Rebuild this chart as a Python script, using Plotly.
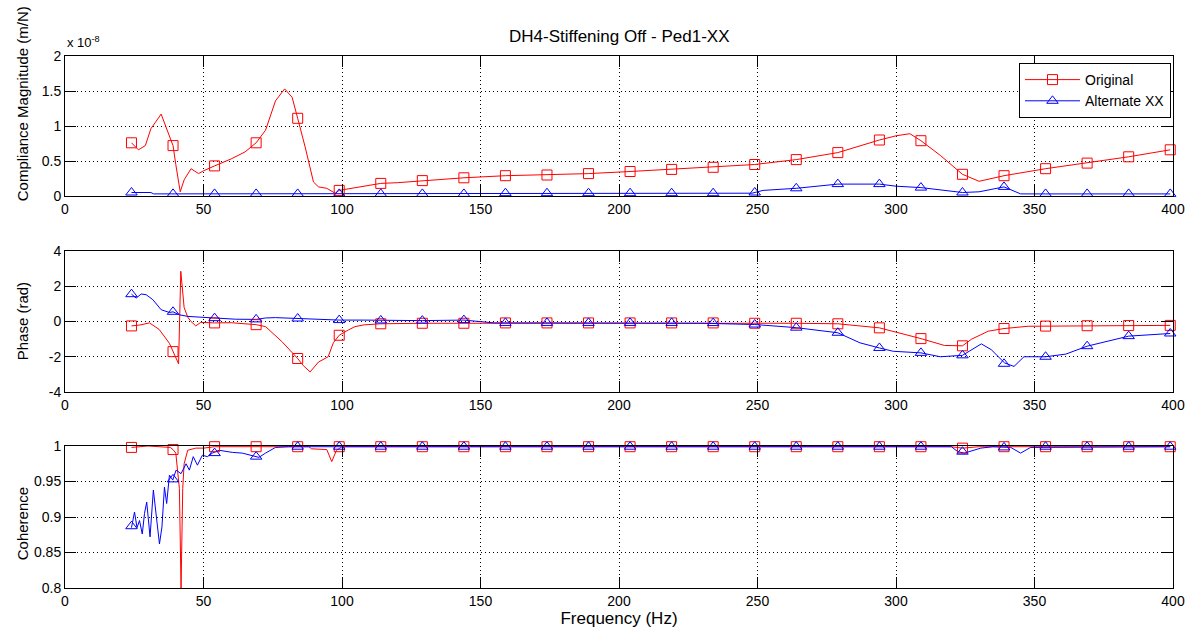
import plotly.graph_objects as go

# ---------------- data ----------------
title_text = "DH4-Stiffening Off - Ped1-XX"
series_names = ["Original", "Alternate XX"]

marker_freq = [24, 39, 54, 69, 84, 99, 114, 129, 144, 159, 174, 189, 204,
               219, 234, 249, 264, 279, 294, 309, 324, 339, 354, 369, 384, 399]

# Compliance magnitude (units of 1e-8 m/N)
mag_orig_f = [24, 26.5, 29, 31, 34.7, 37, 39, 40, 41.6, 43, 45.5, 48.2, 50, 54,
              60, 65, 69, 72.4, 76, 79.3, 82, 84, 86.7, 89.7, 91.5, 94.5, 97.5,
              99, 105, 114, 120, 129, 144, 159, 174, 189, 204, 219, 234, 249,
              264, 279, 294, 300, 305, 309, 316, 324, 330, 339, 354, 369, 384, 399]
mag_orig_v = [0.76, 0.66, 0.72, 0.96, 1.17, 0.93, 0.72, 0.45, 0.06, 0.23, 0.39,
              0.32, 0.36, 0.43, 0.53, 0.63, 0.76, 0.94, 1.36, 1.53, 1.41, 1.11,
              0.70, 0.20, 0.13, 0.11, 0.04, 0.08, 0.12, 0.18, 0.19, 0.22, 0.26,
              0.29, 0.30, 0.32, 0.35, 0.38, 0.41, 0.45, 0.52, 0.62, 0.80, 0.86,
              0.89, 0.79, 0.58, 0.31, 0.21, 0.29, 0.39, 0.47, 0.56, 0.66]
mag_orig_m = [0.76, 0.72, 0.43, 0.76, 1.11, 0.08, 0.18, 0.22, 0.26, 0.29, 0.30,
              0.32, 0.35, 0.38, 0.41, 0.45, 0.52, 0.62, 0.80, 0.79, 0.31, 0.29,
              0.39, 0.47, 0.56, 0.66]

mag_alt_f = [24, 31, 32, 100, 200, 248, 252, 264, 279, 294, 300, 309, 324, 330,
             339, 345, 354, 399]
mag_alt_v = [0.05, 0.05, 0.03, 0.03, 0.04, 0.04, 0.08, 0.11, 0.17, 0.17, 0.14,
             0.12, 0.05, 0.06, 0.13, 0.03, 0.03, 0.03]
mag_alt_m = [0.05, 0.03, 0.03, 0.03, 0.03, 0.03, 0.03, 0.03, 0.03, 0.04, 0.04,
             0.04, 0.04, 0.04, 0.04, 0.05, 0.11, 0.17, 0.17, 0.12, 0.05, 0.13,
             0.03, 0.03, 0.03, 0.03]

# Phase (rad)
ph_orig_f = [24, 27, 30.5, 34, 37.7, 39, 41.0, 41.8, 42.3, 43, 44.3, 45.5, 47.2,
             49, 54, 60, 69, 72.4, 78.3, 84, 86, 88.5, 91.5, 95, 96.9, 99, 102.3,
             104.7, 108, 114, 129, 144, 159, 174, 189, 204, 219, 234, 249, 264,
             279, 287, 294, 309, 317.5, 324, 327.3, 333.3, 339, 347.7, 354, 369,
             384, 399]
ph_orig_v = [-0.25, -0.2, -0.08, -0.45, -1.24, -1.71, -2.4, 2.85, 1.8, 0.8, 0.25,
             0.0, -0.25, -0.05, -0.08, -0.07, -0.18, -0.29, -1.14, -2.1, -2.5,
             -2.86, -2.3, -2.0, -1.2, -0.78, -0.48, -0.29, -0.19, -0.13, -0.1,
             -0.1, -0.08, -0.08, -0.08, -0.08, -0.08, -0.08, -0.1, -0.1, -0.13,
             -0.27, -0.36, -0.97, -1.36, -1.38, -1.0, -0.55, -0.40, -0.27, -0.26,
             -0.24, -0.23, -0.22]
ph_orig_m = [-0.25, -1.71, -0.08, -0.18, -2.1, -0.78, -0.13, -0.1, -0.1, -0.08,
             -0.08, -0.08, -0.08, -0.08, -0.08, -0.1, -0.1, -0.13, -0.36, -0.97,
             -1.38, -0.40, -0.26, -0.24, -0.23, -0.22]

ph_alt_f = [24, 25.7, 27.5, 29.3, 31.7, 34.7, 37.7, 39, 41.3, 44.3, 48.4, 54,
            61.6, 69, 72.4, 76, 84, 96.3, 99, 108, 114, 129, 144, 150, 155, 174,
            204, 230, 249, 264, 279, 287, 294, 299, 309, 316, 324, 330.8, 334.4,
            339.2, 342.6, 346.2, 354, 361.3, 369, 384, 399]
ph_alt_v = [1.55, 1.33, 1.56, 1.52, 1.24, 0.67, 0.51, 0.55, 0.38, 0.29, 0.25,
            0.19, 0.13, 0.12, 0.2, 0.22, 0.17, 0.1, 0.08, 0.08, 0.06, 0.05, 0.08,
            0.0, -0.08, -0.08, -0.08, -0.1, -0.17, -0.35, -0.64, -1.21, -1.5,
            -1.69, -1.78, -2.0, -1.92, -1.27, -1.6, -2.35, -2.55, -2.0, -2.0,
            -1.85, -1.4, -0.83, -0.68]
ph_alt_m = [1.55, 0.55, 0.19, 0.12, 0.17, 0.08, 0.06, 0.05, 0.08, -0.08, -0.08,
            -0.08, -0.08, -0.08, -0.09, -0.17, -0.35, -0.64, -1.5, -1.78, -1.92,
            -2.4, -2.0, -1.4, -0.83, -0.68]

# Coherence
coh_orig_f = [24, 29, 30, 38, 39, 40, 41.3, 41.9, 42.1, 42.5, 43, 44.3, 47.2,
              50, 54, 88, 89, 94.5, 96.3, 98, 100, 320, 324, 330, 399]
coh_orig_v = [0.998, 0.999, 1.0, 0.998, 0.995, 0.99, 0.94, 0.80, 0.85, 0.94,
              0.975, 0.994, 0.997, 0.997, 0.999, 0.999, 0.996, 0.995, 0.978,
              0.994, 0.999, 0.999, 0.997, 0.999, 0.999]
coh_orig_m = [0.998, 0.995, 0.999, 0.999, 0.999, 0.999, 0.999, 0.999, 0.999,
              0.999, 0.999, 0.999, 0.999, 0.999, 0.999, 0.999, 0.999, 0.999,
              0.999, 0.999, 0.997, 0.999, 0.999, 0.999, 0.999, 0.999]

coh_alt_f = [24, 24.5, 25.1, 26.0, 26.9, 27.9, 28.7, 29.5, 30.7, 31.9, 32.9,
             34.1, 35.0, 35.9, 36.7, 37.7, 38.9, 40.1, 41.9, 43.7, 44.9, 46.3,
             47.8, 49.6, 51.4, 53.2, 55.6, 58.0, 60.4, 64.0, 67.6, 70.0, 72.4,
             76.0, 80.7, 320, 322.3, 324.7, 330.6, 335, 341.4, 345, 348.6, 399]
coh_alt_v = [0.885, 0.895, 0.907, 0.885, 0.895, 0.876, 0.905, 0.921, 0.872,
             0.938, 0.900, 0.862, 0.886, 0.942, 0.919, 0.959, 0.952, 0.966,
             0.961, 0.975, 0.966, 0.985, 0.973, 0.987, 0.985, 0.990, 0.994,
             0.992, 0.991, 0.990, 0.986, 0.984, 0.990, 0.998, 0.999, 0.999,
             0.992, 0.990, 0.997, 0.999, 0.998, 0.990, 0.998, 0.999]
coh_alt_m = [0.887, 0.953, 0.990, 0.985, 0.999, 0.999, 0.999, 0.999, 0.999,
             0.999, 0.999, 0.999, 0.999, 0.999, 0.999, 0.999, 0.999, 0.999,
             0.999, 0.999, 0.992, 0.998, 0.999, 0.999, 0.999, 0.999]

x_ticks = [0, 50, 100, 150, 200, 250, 300, 350, 400]
phase_ticks = [-4, -2, 0, 2, 4]
phase_tick_text = ["-4", "-2", "0", "2", "4"]

# ---------------- figure ----------------
RED = "#ff0000"
BLUE = "#0000ff"
FONT = "Liberation Sans, Arial, Helvetica, sans-serif"

fig = go.Figure()

panels = [
    ("x", "y", mag_orig_f, mag_orig_v, mag_orig_m, mag_alt_f, mag_alt_v, mag_alt_m),
    ("x2", "y2", ph_orig_f, ph_orig_v, ph_orig_m, ph_alt_f, ph_alt_v, ph_alt_m),
    ("x3", "y3", coh_orig_f, coh_orig_v, coh_orig_m, coh_alt_f, coh_alt_v, coh_alt_m),
]

for xa, ya, of, ov, om, af, av, am in panels:
    fig.add_trace(go.Scatter(x=of, y=ov, mode="lines", xaxis=xa, yaxis=ya,
                             line=dict(color=RED, width=1), showlegend=False,
                             hoverinfo="skip"))
    fig.add_trace(go.Scatter(x=af, y=av, mode="lines", xaxis=xa, yaxis=ya,
                             line=dict(color=BLUE, width=1), showlegend=False,
                             hoverinfo="skip"))
    fig.add_trace(go.Scatter(x=marker_freq, y=om, mode="markers", xaxis=xa, yaxis=ya,
                             marker=dict(symbol="square-open", size=10, color=RED,
                                         line=dict(width=1, color=RED)),
                             showlegend=False, cliponaxis=False))
    fig.add_trace(go.Scatter(x=marker_freq, y=am, mode="markers", xaxis=xa, yaxis=ya,
                             marker=dict(symbol="triangle-up-open", size=10, color=BLUE,
                                         line=dict(width=1, color=BLUE)),
                             showlegend=False, cliponaxis=False))

# legend entries
fig.add_trace(go.Scatter(x=[None], y=[None], mode="lines+markers", name=series_names[0],
                         line=dict(color=RED, width=1),
                         marker=dict(symbol="square-open", size=10, color=RED)))
fig.add_trace(go.Scatter(x=[None], y=[None], mode="lines+markers", name=series_names[1],
                         line=dict(color=BLUE, width=1),
                         marker=dict(symbol="triangle-up-open", size=10, color=BLUE)))

H = 532.0
def dom(top_px, bot_px):
    return [(588 - bot_px) / H, (588 - top_px) / H]

GRID_DASH = "1px,3px"
common_x = dict(range=[0, 400], tickvals=x_ticks, showgrid=True, gridcolor="#000",
                griddash=GRID_DASH, gridwidth=1, showline=True, linecolor="black",
                linewidth=1, mirror="ticks", ticks="inside", ticklen=11,
                tickcolor="black", zeroline=False,
                tickfont=dict(family=FONT, size=14, color="black"))
common_y = dict(showgrid=True, gridcolor="#000", griddash=GRID_DASH, gridwidth=1,
                showline=True, linecolor="black", linewidth=1, mirror="ticks",
                ticks="inside", ticklen=11, tickcolor="black", zeroline=False,
                tickfont=dict(family=FONT, size=14, color="black"))

fig.update_layout(
    width=1197, height=635,
    margin=dict(l=65, r=17, t=56, b=47),
    paper_bgcolor="white", plot_bgcolor="white",
    font=dict(family=FONT, size=14, color="black"),
    xaxis=dict(common_x, anchor="y", domain=[0, 1]),
    yaxis=dict(common_y, anchor="x", domain=dom(56, 196), range=[0, 2], dtick=0.5),
    xaxis2=dict(common_x, anchor="y2", domain=[0, 1]),
    yaxis2=dict(common_y, anchor="x2", domain=dom(251, 392), range=[-4, 4],
                tickvals=phase_ticks, ticktext=phase_tick_text),
    xaxis3=dict(common_x, anchor="y3", domain=[0, 1],
                title=dict(text="Frequency (Hz)", font=dict(family=FONT, size=17),
                           standoff=2)),
    yaxis3=dict(common_y, anchor="x3", domain=dom(446, 588), range=[0.8, 1], dtick=0.05),
    legend=dict(x=(1178 - 65) / 1115.0, y=(588 - 63) / H, xanchor="right", yanchor="top",
                bgcolor="white", bordercolor="black", borderwidth=1,
                font=dict(family=FONT, size=14), itemwidth=55,
                tracegroupgap=0),
    showlegend=True,
)

def ypaper(px):
    return (588 - px) / H

annos = [
    dict(text=title_text, x=0.5, y=ypaper(37), xref="paper", yref="paper",
         xanchor="center", yanchor="middle", showarrow=False,
         font=dict(family=FONT, size=17)),
    dict(text="x 10<sup>-8</sup>", x=0, y=ypaper(42), xref="paper", yref="paper",
         xanchor="left", yanchor="middle", showarrow=False,
         font=dict(family=FONT, size=13)),
    dict(text="Compliance Magnitude (m/N)", x=(22 - 65) / 1115.0, y=ypaper(104),
         xref="paper", yref="paper", xanchor="center", yanchor="middle",
         textangle=-90, showarrow=False, font=dict(family=FONT, size=15)),
    dict(text="Phase (rad)", x=(22 - 65) / 1115.0, y=ypaper(321),
         xref="paper", yref="paper", xanchor="center", yanchor="middle",
         textangle=-90, showarrow=False, font=dict(family=FONT, size=15)),
    dict(text="Coherence", x=(22 - 65) / 1115.0, y=ypaper(524),
         xref="paper", yref="paper", xanchor="center", yanchor="middle",
         textangle=-90, showarrow=False, font=dict(family=FONT, size=15)),
]
fig.update_layout(annotations=annos)

fig.write_html("out.html")
